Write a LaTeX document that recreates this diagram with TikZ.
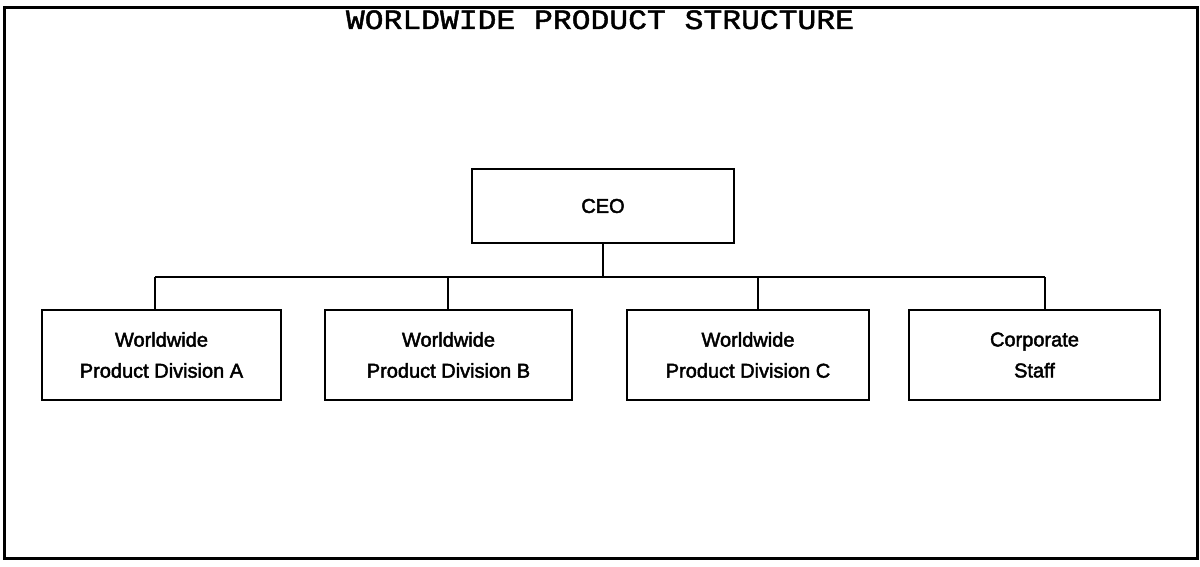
\documentclass[tikz,border=0pt]{standalone}
\usepackage{fontspec}
\setmainfont{Liberation Sans}[FakeBold=2.2]
\newfontfamily\titlefont{Liberation Mono}[FakeStretch=1.12,FakeBold=1.6]
\begin{document}
\begin{tikzpicture}[x=1pt,y=-1pt,
  frame/.style={draw=black,line width=3pt},
  orgbox/.style={draw=black,line width=2.8pt,rectangle,inner sep=0pt,
    align=center,font=\fontsize{20}{31}\selectfont},
  link/.style={draw=black,line width=2.6pt}]
\useasboundingbox (0,0) rectangle (1200,567);
% outer frame and title
\draw[frame] (4,8) rectangle (1197,558);
\node[anchor=base,inner sep=0pt,font=\titlefont\fontsize{28}{28}\selectfont] (title) at (600,29) {WORLDWIDE PRODUCT STRUCTURE};
% chart boxes
\node[orgbox,minimum width=262pt,minimum height=74pt] (ceo) at (603,206) {CEO};
\node[orgbox,minimum width=239pt,minimum height=90pt] (A) at (161.5,355) {Worldwide\\Product Division A};
\node[orgbox,minimum width=247pt,minimum height=90pt] (B) at (448.5,355) {Worldwide\\Product Division B};
\node[orgbox,minimum width=242pt,minimum height=90pt] (C) at (748,355) {Worldwide\\Product Division C};
\node[orgbox,minimum width=251pt,minimum height=90pt] (D) at (1034.5,355) {Corporate\\Staff};
% connector bus
\coordinate (ja) at (155,277);
\coordinate (jb) at (448,277);
\coordinate (jc) at (758,277);
\coordinate (jd) at (1045,277);
\draw[link] (ceo.south) -- (ceo.south |- ja);
\draw[link] (ja) -- (jd);
\draw[link] (ja) -- (ja |- A.north);
\draw[link] (jb) -- (jb |- B.north);
\draw[link] (jc) -- (jc |- C.north);
\draw[link] (jd) -- (jd |- D.north);
\end{tikzpicture}
\end{document}
